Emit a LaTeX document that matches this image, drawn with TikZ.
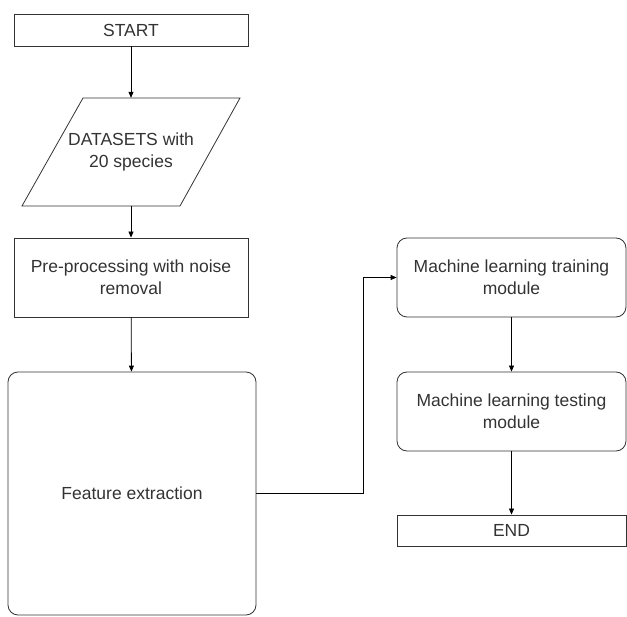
\documentclass[tikz,border=0pt]{standalone}
\usepackage{fontspec}
\setmainfont{Liberation Sans}
\usetikzlibrary{arrows.meta}
\definecolor{ink}{rgb}{.2,.2,.2}

\begin{document}
\begin{tikzpicture}[x=1pt,y=-1pt,
  every node/.style={text=ink, font=\fontsize{17.5}{20}\selectfont, align=center, inner sep=0pt},
  box/.style={draw=ink, line width=.8pt, minimum width=234pt},
  roundbox/.style={box, rounded corners=10pt},
  databox/.style={minimum width=150pt, minimum height=108pt},
  flow/.style={draw=black, line width=.8pt, -{Triangle[length=6pt,width=5pt]}}]

\useasboundingbox (0,0) rectangle (627,617);

\node [box, minimum height=32pt] (start) at (131,30) {START};
\node [databox] (data) at (131,152) {DATASETS with\\[2pt]20 species};
% slanted outline of the data node
\draw [ink, line width=.8pt] (data) ++(-48,-54) -- ++(157,0) -- ++(-60,108) -- ++(-158,0) -- cycle;
\node [box, minimum height=79pt] (pre) at (131,277.5) {Pre-processing with noise\\[2pt]removal};
\node [roundbox, minimum width=248pt, minimum height=243pt] (feat) at (132,493.5) {Feature extraction};

\node [roundbox, minimum width=229pt, minimum height=79pt] (train) at (511.5,277.5) {Machine learning training\\[2pt]module};
\node [roundbox, minimum width=229pt, minimum height=79pt] (test) at (511.5,411.5) {Machine learning testing\\[2pt]module};
\node [box, minimum width=229pt, minimum height=31pt] (end) at (511.5,530.5) {END};

\draw [flow] (start) -- (data);
\draw [flow] (data) -- (pre);
\draw [flow] (pre) -- (feat);
\draw [flow] (feat.east) -- (363,493.5) |- (train.west);
\draw [flow] (train) -- (test);
\draw [flow] (test) -- (end);

\end{tikzpicture}
\end{document}
